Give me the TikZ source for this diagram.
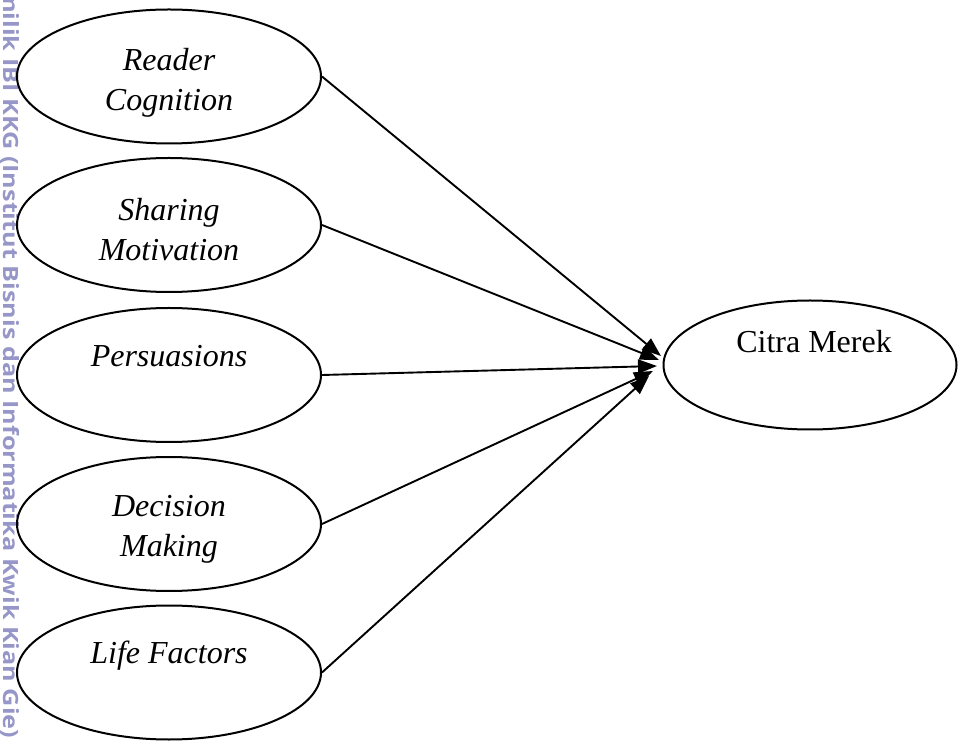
\documentclass[tikz,border=0pt]{standalone}
\usepackage{fontspec}
\setmainfont{Liberation Serif}
\newfontfamily\wmfont[FakeStretch=1.2]{Open Sans}
\usepackage{xcolor}
\usetikzlibrary{shapes.geometric, arrows.meta, positioning}
\definecolor{wmblue}{RGB}{150,150,200}

\begin{document}
\begin{tikzpicture}[x=1pt, y=1pt,
  var/.style={draw, ellipse, line width=2pt, minimum width=304pt, minimum height=134pt, inner sep=0pt},
  lbl/.style={align=center, inner sep=0pt, font=\fontsize{32}{40}\selectfont\itshape},
  link/.style={line width=1.9pt, -{Triangle[length=19pt, width=14pt]}}]
\useasboundingbox (0,0) rectangle (958,742);
\node[rotate=-90, anchor=base west, inner sep=0pt, text=wmblue, font=\wmfont\bfseries\fontsize{21}{21}\selectfont] (wm) at (4,754) {milik IBI KKG (Institut Bisnis dan Informatika Kwik Kian Gie)};
\node[var] (rc) at (169,665.5) {};
\node[var] (sm) at (169,517) {};
\node[var] (ps) at (169,367) {};
\node[var] (dm) at (169,218) {};
\node[var] (lf) at (169,69.5) {};
\node[var, minimum width=293pt, minimum height=129pt] (cm) at (810,377) {};
\node[lbl] (rct) at (169,659.5) {Reader\\Cognition};
\node[lbl] (smt) at (169,512.5) {Sharing\\Motivation};
\node[lbl, anchor=base] (pst) at (169,375) {Persuasions};
\node[lbl] (dmt) at (169,213) {Decision\\Making};
\node[lbl, anchor=base] (lft) at (169,79) {Life Factors};
\node[lbl, anchor=base, font=\fontsize{32}{40}\selectfont] (cmt) at (814,389) {Citra Merek};
\coordinate (hub1) at (661,386);
\coordinate (hub2) at (659,382);
\coordinate (hub3) at (657,376);
\coordinate (hub4) at (653,371);
\coordinate (hub5) at (649,366);
\draw[link] (rc.east) -- (hub1);
\draw[link] (sm.east) -- (hub2);
\draw[link] (ps.east) -- (hub3);
\draw[link] (dm.east) -- (hub4);
\draw[link] (lf.east) -- (hub5);
\end{tikzpicture}
\end{document}
